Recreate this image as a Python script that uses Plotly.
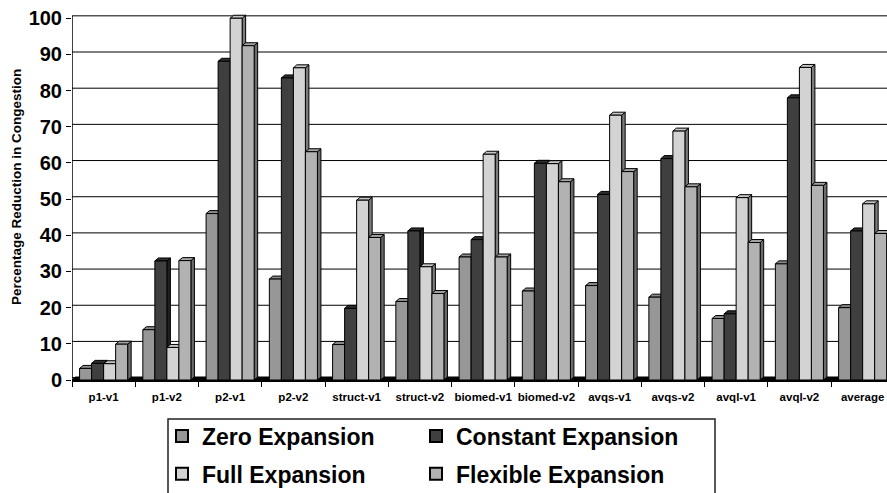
import plotly.graph_objects as go

# ---- data -------------------------------------------------------------
categories = ["p1-v1", "p1-v2", "p2-v1", "p2-v2", "struct-v1", "struct-v2",
              "biomed-v1", "biomed-v2", "avqs-v1", "avqs-v2", "avql-v1",
              "avql-v2", "average"]

zero_expansion = [3.2, 13.9, 46.0, 27.9, 9.8, 21.7, 34.0, 24.6, 26.1, 22.9, 17.0, 32.1, 20.0]
constant_expansion = [4.6, 32.9, 88.1, 83.5, 19.8, 41.2, 38.8, 59.9, 51.3, 61.2, 18.3, 78.0, 41.2]
full_expansion = [4.5, 9.0, 100.0, 86.3, 49.7, 31.3, 62.4, 59.8, 73.2, 68.8, 50.4, 86.4, 48.7]
flexible_expansion = [9.9, 33.0, 92.4, 63.1, 39.4, 23.9, 34.0, 54.8, 57.6, 53.4, 38.0, 53.8, 40.5]

series_names = ["Zero Expansion", "Constant Expansion", "Full Expansion", "Flexible Expansion"]
series_values = [zero_expansion, constant_expansion, full_expansion, flexible_expansion]

y_ticks = list(range(0, 101, 10))
y_title = "Percentage Reduction in Congestion"

# ---- styling ----------------------------------------------------------
front_colors = ["#979797", "#3f3f3f", "#d3d3d3", "#b2b2b2"]
top_colors = ["#8a8a8a", "#2e2e2e", "#c4c4c4", "#a3a3a3"]
side_colors = ["#5e5e5e", "#202020", "#7c7c7c", "#6c6c6c"]

FONT = "Liberation Sans, Arial, sans-serif"
W, H = 887, 493
M_L, M_R, M_T, M_B = 72, 0, 11, 113
X_MIN, X_MAX = -0.5, 12.385
Y_MIN, Y_MAX = 0, 102

plot_w = W - M_L - M_R
plot_h = H - M_T - M_B
px_x = plot_w / (X_MAX - X_MIN)   # pixels per category unit
px_y = plot_h / (Y_MAX - Y_MIN)   # pixels per percent

BAR_W = 0.19                       # width of one column (category units)
DX = 3.5 / px_x                    # depth offset of the 3-D look
DY = 3.0 / px_y
GRID_DY = 2.4 / px_y               # back-wall gridline offset


def paper_x(px):
    return (px - M_L) / plot_w


def paper_y(py):
    return (H - M_B - py) / plot_h


xs = list(range(len(categories)))

fig = go.Figure()

# front faces of the columns
for i, (name, vals) in enumerate(zip(series_names, series_values)):
    fig.add_trace(go.Bar(
        x=xs, y=vals, name=name,
        width=BAR_W, offset=-2 * BAR_W + i * BAR_W,
        marker=dict(color=front_colors[i], line=dict(color="black", width=1)),
        legend="legend" if i in (0, 2) else "legend2",
        legendgroup=name,
        hoverinfo="name+y",
    ))

shapes = []

# back-wall gridlines
for t in y_ticks:
    shapes.append(dict(type="line", xref="x", yref="y", layer="below",
                       x0=X_MIN, x1=X_MAX + 1, y0=t + GRID_DY, y1=t + GRID_DY,
                       line=dict(color="black", width=1)))

# floor edge
shapes.append(dict(type="path", xref="x", yref="y", layer="between",
                   path=f"M {X_MIN},0 L {X_MAX + 1},0 L {X_MAX + 1 + DX},{DY} L {X_MIN + DX},{DY} Z",
                   fillcolor="black", line=dict(color="black", width=1)))

# side faces, then top faces of every column
sides, tops = [], []
for i, vals in enumerate(series_values):
    for j, v in enumerate(vals):
        x0 = xs[j] - 2 * BAR_W + i * BAR_W
        x1 = x0 + BAR_W
        sides.append(dict(type="path", xref="x", yref="y", layer="between",
                          path=f"M {x1},0 L {x1},{v} L {x1 + DX},{v + DY} L {x1 + DX},{DY} Z",
                          fillcolor=side_colors[i], line=dict(color="black", width=1)))
        tops.append(dict(type="path", xref="x", yref="y", layer="between",
                         path=f"M {x0},{v} L {x1},{v} L {x1 + DX},{v + DY} L {x0 + DX},{v + DY} Z",
                         fillcolor=top_colors[i], line=dict(color="black", width=1)))
shapes += sides + tops

# left wall edge (value axis line)
shapes.append(dict(type="line", xref="x", yref="y", layer="above",
                   x0=X_MIN, x1=X_MIN, y0=0, y1=100 + GRID_DY,
                   line=dict(color="black", width=1.5)))

# legend frame
shapes.append(dict(type="rect", xref="paper", yref="paper",
                   x0=paper_x(168), x1=paper_x(715), y0=paper_y(419), y1=paper_y(520),
                   line=dict(color="#222222", width=1.5), fillcolor="rgba(0,0,0,0)"))

legend_font = dict(family=FONT, size=23, color="black", weight="bold")
legend_top = paper_y(414.5)

fig.update_layout(
    width=W, height=H,
    margin=dict(l=M_L, r=M_R, t=M_T, b=M_B, pad=0, autoexpand=False),
    paper_bgcolor="white", plot_bgcolor="white",
    barmode="overlay",
    showlegend=True,
    shapes=shapes,
    annotations=[dict(text=f"<b>{y_title}</b>", xref="paper", yref="paper",
                      x=paper_x(16), y=paper_y(187), xanchor="center", yanchor="middle",
                      textangle=-90, showarrow=False,
                      font=dict(family=FONT, size=13.5, color="black"))],
    legend=dict(x=paper_x(162), xanchor="left", y=legend_top, yanchor="top",
                orientation="v", font=legend_font, bgcolor="rgba(0,0,0,0)",
                tracegroupgap=5, itemsizing="constant"),
    legend2=dict(x=paper_x(416), xanchor="left", y=legend_top, yanchor="top",
                 orientation="v", font=legend_font, bgcolor="rgba(0,0,0,0)",
                 tracegroupgap=5, itemsizing="constant"),
    xaxis=dict(
        range=[X_MIN, X_MAX],
        tickvals=xs, ticktext=categories,
        ticks="", showgrid=False, zeroline=False,
        showline=True, linecolor="black", linewidth=1.5,
        tickfont=dict(family=FONT, size=11.5, color="black", weight="bold"),
        ticklabelstandoff=5,
        minor=dict(tickvals=[k - 0.5 for k in range(len(categories) + 1)],
                   ticks="outside", ticklen=5, tickcolor="black", tickwidth=1,
                   showgrid=False),
        fixedrange=True,
    ),
    yaxis=dict(
        range=[Y_MIN, Y_MAX],
        tickvals=y_ticks,
        ticks="outside", ticklen=5, tickcolor="black", tickwidth=1,
        showgrid=False, zeroline=False, showline=False,
        tickfont=dict(family=FONT, size=20, color="black", weight="bold"),
        fixedrange=True,
    ),
)

fig.write_html("out.html")
